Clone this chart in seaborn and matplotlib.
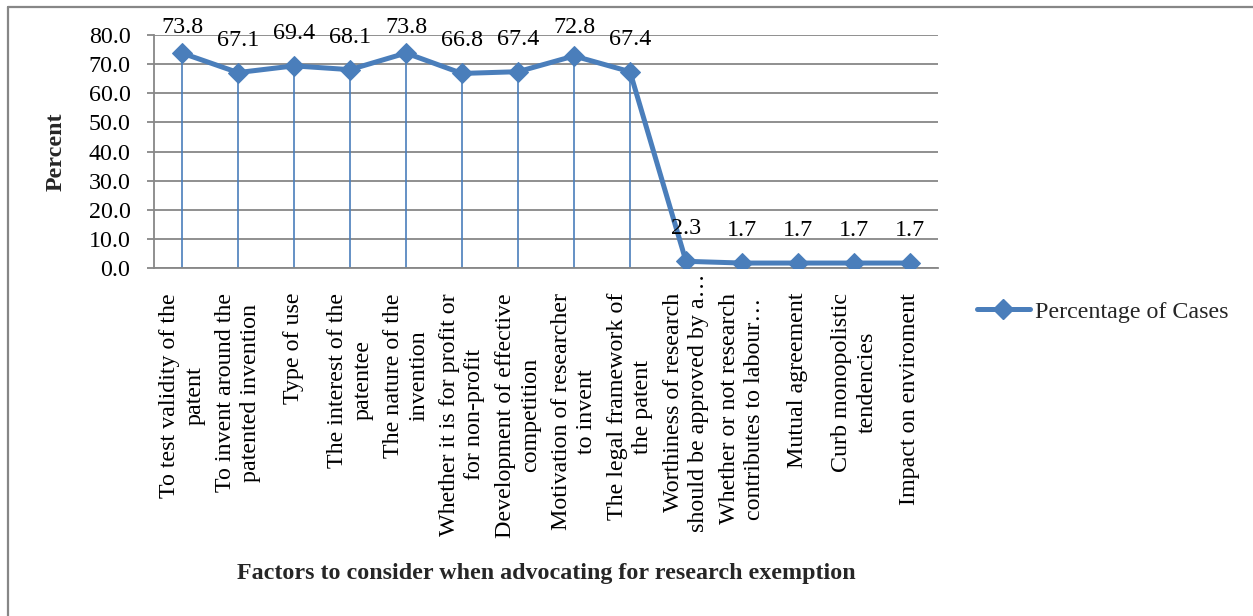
import matplotlib
matplotlib.use("Agg")
import matplotlib.pyplot as plt
from matplotlib.lines import Line2D
from matplotlib.transforms import ScaledTranslation
import seaborn as sns
import pandas as pd

# Factors and the share of cases citing each one
factors = [
    "To test validity of the\npatent",
    "To invent around the\npatented invention",
    "Type of use",
    "The interest of the\npatentee",
    "The nature of the\ninvention",
    "Whether it is for profit or\nfor non-profit",
    "Development of effective\ncompetition",
    "Motivation of researcher\nto invent",
    "The legal framework of\nthe patent",
    "Worthiness of research\nshould be approved by a\u2026",
    "Whether or not research\ncontributes to labour\u2026",
    "Mutual agreement",
    "Curb monopolistic\ntendencies",
    "Impact on enviroment",
]
percent = [73.8, 67.1, 69.4, 68.1, 73.8, 66.8, 67.4, 72.8, 67.4, 2.3, 1.7, 1.7, 1.7, 1.7]
series_name = "Percentage of Cases"
y_ticks = [0, 10, 20, 30, 40, 50, 60, 70, 80]

BLUE = "#4A7EBB"
GRAY = "#878787"
FS = 17.3
DPI = 100
LABEL_CAP_PX = 250  # longest category label run before it overflows its slot

sns.set_theme(style="white")
plt.rcParams["font.family"] = ["Liberation Serif", "DejaVu Serif"]

df = pd.DataFrame({"factor": factors, "percent": percent, "series": series_name})

fig = plt.figure(figsize=(12.53, 6.16), dpi=DPI)
W, H = 1253, 616
ax = fig.add_axes([154 / W, 1 - 268 / H, (938 - 154) / W, (268 - 35) / H])

pos = list(range(len(factors)))

# drop lines from each point to the axis
ax.vlines(pos, 0, percent, color=BLUE, lw=1.2, zorder=2)

sns.lineplot(data=df, x="factor", y="percent", hue="series", palette=[BLUE],
             sort=False, marker="D", markersize=10, markeredgecolor=BLUE,
             linewidth=3.6, ax=ax, zorder=3, legend=False)

ax.set_xlim(-0.5, len(factors) - 0.5)
ax.set_ylim(0, 80)

# value labels sit above each point, kept inside the chart area near the top
px_to_pt = 72.0 / DPI
digit_half = 0.33 * FS / px_to_pt
for x, v in zip(pos, percent):
    y_disp = ax.transData.transform((x, v))[1]
    room = (H - 25) - y_disp
    gap = min(35.0, room)
    ax.annotate(f"{v:.1f}", (x, v), xytext=(0, (gap - digit_half) * px_to_pt),
                textcoords="offset points", ha="center", va="baseline",
                fontsize=FS, color="black", annotation_clip=False, zorder=4)

ax.set_yticks(y_ticks)
ax.set_yticklabels([f"{t:.1f}" for t in y_ticks], fontsize=FS)
ax.set_xticks(pos)
ax.set_xticklabels(factors, rotation=90, fontsize=FS, linespacing=1.3)

ax.yaxis.grid(True, color=GRAY, lw=1.3)
ax.xaxis.grid(False)
ax.set_axisbelow(True)
for side in ("top", "right"):
    ax.spines[side].set_visible(False)
for side in ("left", "bottom"):
    ax.spines[side].set_color(GRAY)
    ax.spines[side].set_linewidth(1.3)
ax.tick_params(axis="y", which="major", left=True, length=5, width=1.3,
               color=GRAY, pad=12, labelcolor="black")
ax.tick_params(axis="x", which="major", bottom=False, pad=12, labelcolor="black")

ax.set_xlabel("")
ax.set_ylabel("")

# a label whose longest line overruns the slot is centred on its shorter line
fig.canvas.draw()
renderer = fig.canvas.get_renderer()
for lab in ax.get_xticklabels():
    lines = lab.get_text().split("\n")
    if len(lines) < 2:
        continue
    lengths = []
    for ln in lines:
        t = fig.text(0, 0, ln, fontsize=FS)
        lengths.append(t.get_window_extent(renderer).width)
        t.remove()
    if max(lengths) > LABEL_CAP_PX:
        dy = (max(lengths) - min(lengths)) / 2 / DPI
        lab.set_transform(lab.get_transform()
                          + ScaledTranslation(0, dy, fig.dpi_scale_trans))

fig.text(56 / W, 1 - 152 / H, "Percent", rotation=90, ha="center", va="center",
         fontsize=FS, fontweight="bold")
fig.text(546 / W, 1 - 574 / H,
         "Factors to consider when advocating for research exemption",
         ha="center", va="center", fontsize=FS, fontweight="bold")

handle = Line2D([], [], color=BLUE, lw=3.6, marker="D", markersize=10,
                markeredgecolor=BLUE)
fig.legend([handle], [series_name], loc="center left",
           bbox_to_anchor=(977 / W, 1 - 312 / H), frameon=False,
           fontsize=FS, handlelength=2.2, handletextpad=0.2,
           borderpad=0, borderaxespad=0)

# chart-area frame
fig.add_artist(Line2D([8 / W, 8 / W], [0, 1 - 6.5 / H], color=GRAY, lw=1.6,
                      transform=fig.transFigure))
fig.add_artist(Line2D([8 / W, 1], [1 - 6.5 / H, 1 - 6.5 / H], color=GRAY, lw=1.6,
                      transform=fig.transFigure))

fig.savefig("out.png", dpi=DPI)
